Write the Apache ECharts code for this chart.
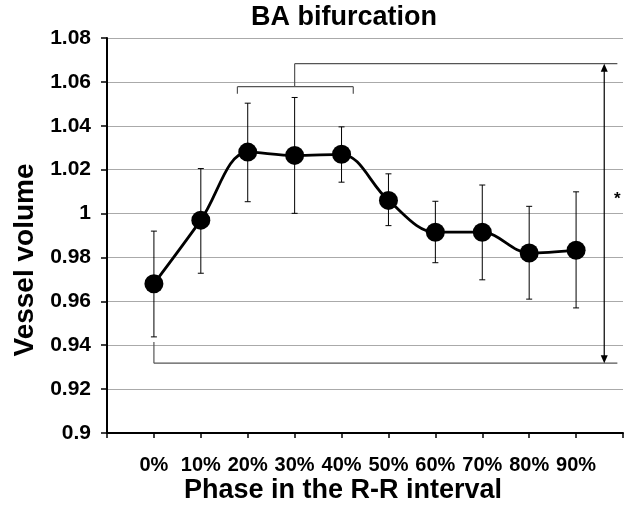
<!DOCTYPE html>
<html>
<head>
<meta charset="utf-8">
<script src="https://cdn.jsdelivr.net/npm/echarts@6/dist/echarts.min.js"></script>
<style>html,body{margin:0;padding:0;background:#fff}#c{width:628px;height:506px}</style>
</head>
<body>
<div id="c"></div>
<script>
var phases = ['0%','10%','20%','30%','40%','50%','60%','70%','80%','90%'];
var meanVolume = [0.968, 0.997, 1.028, 1.0265, 1.027, 1.006, 0.9915, 0.9915, 0.982, 0.9833];
var errHigh = [0.992, 1.0205, 1.0503, 1.0529, 1.0395, 1.0181, 1.0056, 1.013, 1.0033, 1.0099];
var errLow = [0.9438, 0.9728, 1.0054, 1.0001, 1.0143, 0.9945, 0.9776, 0.9698, 0.961, 0.957];
var yTicks = [0.9, 0.92, 0.94, 0.96, 0.98, 1, 1.02, 1.04, 1.06, 1.08];
// significance annotation (data coordinates: x = phase index, y = volume)
var bracketTop = {y: 1.0683, xFrom: 3, xTo: 9.88, drop: 1.0578};
var bracketGroup = {y: 1.0578, yTick: 1.0546, xFrom: 1.78, xTo: 4.25};
var bracketBottom = {y: 0.9318, xFrom: 0, xTo: 9.88, rise: 0.9415};
var arrowX = 9.6;
var starPos = [9.88, 1.0066];

var chart = echarts.init(document.getElementById('c'));
var font = '"Liberation Sans", Arial, sans-serif';
var annColor = '#555';
var annWidth = 1.2;

var errData = phases.map(function(p,i){ return [i, errLow[i], errHigh[i]]; });
var lineData = phases.map(function(p,i){ return [i, meanVolume[i]]; });

function seg(api, a, b){
  var p1 = api.coord(a), p2 = api.coord(b);
  return {type:'line', shape:{x1:p1[0],y1:p1[1],x2:p2[0],y2:p2[1]}, style:{stroke:annColor, lineWidth:annWidth}};
}

chart.setOption({
  animation: false,
  backgroundColor: '#fff',
  grid: {left:107, right:5, top:38, bottom:73, containLabel:false},
  xAxis: {
    type:'value', min:-1, max:10, interval:1,
    axisLine:{show:true, onZero:false, lineStyle:{color:'#000', width:2}},
    axisTick:{show:true, length:5, lineStyle:{color:'#000', width:1.5}},
    splitLine:{show:false},
    axisLabel:{
      margin:22, color:'#000', fontFamily:font, fontWeight:'bold', fontSize:20,
      formatter:function(v){ var i=Math.round(v); return (i>=0 && i<phases.length)? phases[i] : ''; }
    }
  },
  yAxis: {
    type:'value', min:yTicks[0], max:yTicks[yTicks.length-1], interval:0.02,
    axisLine:{show:true, onZero:false, lineStyle:{color:'#000', width:2}},
    axisTick:{show:true, length:6, lineStyle:{color:'#000', width:1.5}},
    splitLine:{show:true, lineStyle:{color:'#aaa', width:1}},
    axisLabel:{
      margin:16, color:'#000', fontFamily:font, fontWeight:'bold', fontSize:21,
      formatter:function(v){ return String(+v.toFixed(2)); }
    }
  },
  graphic: [
    {type:'text', x:344, y:18, style:{text:'BA bifurcation', fill:'#000', font:'bold 27px ' + font, textAlign:'center', textVerticalAlign:'middle'}},
    {type:'text', x:343, y:491, style:{text:'Phase in the R-R interval', fill:'#000', font:'bold 27px ' + font, textAlign:'center', textVerticalAlign:'middle'}},
    {type:'text', x:25, y:260, rotation:Math.PI/2, style:{text:'Vessel volume', fill:'#000', font:'bold 28px ' + font, textAlign:'center', textVerticalAlign:'middle'}}
  ],
  series: [
    {
      type:'custom', name:'annotation', z:1,
      data:[[0, 1]],
      renderItem:function(params, api){
        var ch = [];
        ch.push(seg(api,[bracketTop.xFrom,bracketTop.y],[bracketTop.xTo,bracketTop.y]));
        ch.push(seg(api,[bracketTop.xFrom,bracketTop.y],[bracketTop.xFrom,bracketTop.drop]));
        ch.push(seg(api,[bracketGroup.xFrom,bracketGroup.y],[bracketGroup.xTo,bracketGroup.y]));
        ch.push(seg(api,[bracketGroup.xFrom,bracketGroup.y],[bracketGroup.xFrom,bracketGroup.yTick]));
        ch.push(seg(api,[bracketGroup.xTo,bracketGroup.y],[bracketGroup.xTo,bracketGroup.yTick]));
        ch.push(seg(api,[bracketBottom.xFrom,bracketBottom.y],[bracketBottom.xTo,bracketBottom.y]));
        ch.push(seg(api,[bracketBottom.xFrom,bracketBottom.y],[bracketBottom.xFrom,bracketBottom.rise]));
        var t = api.coord([arrowX, bracketTop.y]), b = api.coord([arrowX, bracketBottom.y]);
        ch.push({type:'line', shape:{x1:t[0],y1:t[1]+6,x2:b[0],y2:b[1]-6}, style:{stroke:'#000', lineWidth:1.2}});
        ch.push({type:'polygon', shape:{points:[[t[0],t[1]],[t[0]-3.5,t[1]+8],[t[0]+3.5,t[1]+8]]}, style:{fill:'#000'}});
        ch.push({type:'polygon', shape:{points:[[b[0],b[1]],[b[0]-3.5,b[1]-8],[b[0]+3.5,b[1]-8]]}, style:{fill:'#000'}});
        var s = api.coord(starPos);
        ch.push({type:'text', x:s[0], y:s[1], style:{text:'*', fill:'#000', font:'bold 17px ' + font, textAlign:'center', textVerticalAlign:'middle'}});
        return {type:'group', children:ch};
      }
    },
    {
      type:'custom', name:'error', z:2,
      data: errData,
      renderItem:function(params, api){
        var lo = api.coord([api.value(0), api.value(1)]);
        var hi = api.coord([api.value(0), api.value(2)]);
        var w = 3;
        var st = {stroke:'#000', lineWidth:1};
        return {type:'group', children:[
          {type:'line', shape:{x1:lo[0],y1:lo[1],x2:hi[0],y2:hi[1]}, style:st},
          {type:'line', shape:{x1:lo[0]-w,y1:lo[1],x2:lo[0]+w,y2:lo[1]}, style:st},
          {type:'line', shape:{x1:hi[0]-w,y1:hi[1],x2:hi[0]+w,y2:hi[1]}, style:st}
        ]};
      }
    },
    {
      type:'line', name:'Vessel volume', z:3,
      data: lineData,
      smooth: 0.35,
      symbol:'circle', symbolSize:19,
      lineStyle:{color:'#000', width:2.8},
      itemStyle:{color:'#000'}
    }
  ]
});
</script>
</body>
</html>
